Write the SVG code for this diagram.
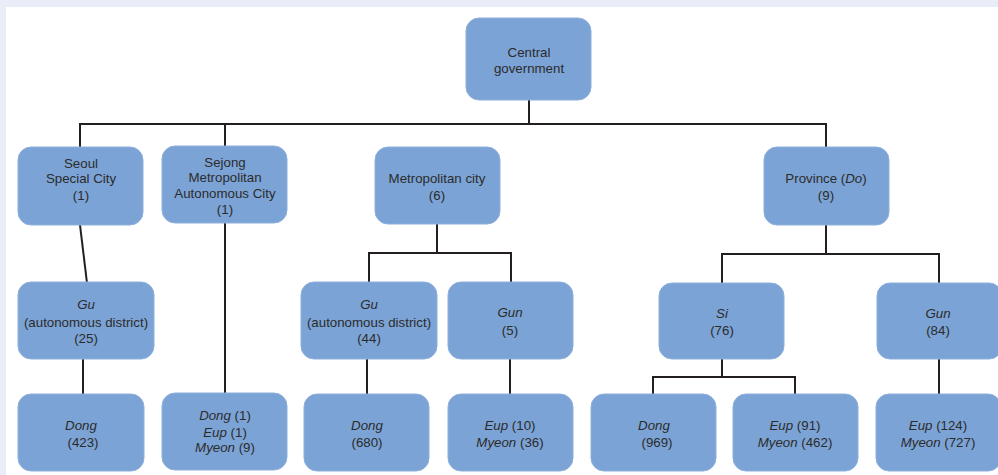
<svg xmlns="http://www.w3.org/2000/svg" width="998" height="475" viewBox="0 0 998 475">
<style>
.bx{fill:#7ca3d5;stroke:#8db0dc;stroke-width:1}
.t{font-family:"Liberation Sans",Arial,sans-serif;font-size:13.3px;fill:#2b2b2b;text-anchor:middle}
.i{font-style:italic}
.c{fill:none;stroke:#231f20;stroke-width:2}
</style>
<rect x="0" y="0" width="998" height="475" fill="#e8edf7"/>
<rect x="6" y="7" width="992" height="468" fill="#ffffff"/>
<g id="connectors">
<path class="c" d="M80,148 V124 H826 V148"/>
<path class="c" d="M529,100 V124"/>
<path class="c" d="M225,124 V147"/>
<path class="c" d="M80,225 L87,283"/>
<path class="c" d="M225,223 V394"/>
<path class="c" d="M83,359 V395"/>
<path class="c" d="M437,224 V253 M369,283 V253 H511 V283"/>
<path class="c" d="M367,359 V395"/>
<path class="c" d="M510,359 V395"/>
<path class="c" d="M826,225 V254 M722,284 V254 H939 V284"/>
<path class="c" d="M722,359 V377 M653,395 V377 H795 V395"/>
<path class="c" d="M939,359 V395"/>
</g>
<g id="central"><rect class="bx" x="466" y="18" width="125" height="82" rx="13"/>
<text class="t" x="529" y="57">Central</text><text class="t" x="529" y="73">government</text></g>
<g id="seoul"><rect class="bx" x="18" y="147" width="125" height="78" rx="13"/>
<text class="t" x="81" y="168">Seoul</text><text class="t" x="81" y="183">Special City</text><text class="t" x="81" y="200">(1)</text></g>
<g id="sejong"><rect class="bx" x="162" y="146" width="125" height="77" rx="13"/>
<text class="t" x="225" y="167">Sejong</text><text class="t" x="225" y="182">Metropolitan</text><text class="t" x="225" y="198">Autonomous City</text><text class="t" x="225" y="214">(1)</text></g>
<g id="metro"><rect class="bx" x="375" y="147" width="125" height="77" rx="13"/>
<text class="t" x="437" y="183">Metropolitan city</text><text class="t" x="437" y="200">(6)</text></g>
<g id="province"><rect class="bx" x="764" y="147" width="125" height="78" rx="13"/>
<text class="t" x="826" y="183">Province (<tspan class="i">Do</tspan>)</text><text class="t" x="826" y="200">(9)</text></g>
<g id="seoul-gu"><rect class="bx" x="18" y="282" width="136" height="77" rx="13"/>
<text class="t i" x="86" y="309">Gu</text><text class="t" x="86" y="327">(autonomous district)</text><text class="t" x="86" y="343">(25)</text></g>
<g id="seoul-dong"><rect class="bx" x="18" y="394" width="126" height="77" rx="13"/>
<text class="t i" x="81" y="430">Dong</text><text class="t" x="83" y="447">(423)</text></g>
<g id="sejong-sub"><rect class="bx" x="162" y="393" width="125" height="77" rx="13"/>
<text class="t" x="225" y="420"><tspan class="i">Dong</tspan> (1)</text><text class="t" x="225" y="437"><tspan class="i">Eup</tspan> (1)</text><text class="t" x="225" y="452"><tspan class="i">Myeon</tspan> (9)</text></g>
<g id="metro-gu"><rect class="bx" x="301" y="282" width="136" height="77" rx="13"/>
<text class="t i" x="369" y="309">Gu</text><text class="t" x="369" y="327">(autonomous district)</text><text class="t" x="369" y="343">(44)</text></g>
<g id="metro-gun"><rect class="bx" x="448" y="282" width="125" height="77" rx="13"/>
<text class="t i" x="510" y="317">Gun</text><text class="t" x="510" y="335">(5)</text></g>
<g id="metro-dong"><rect class="bx" x="304" y="394" width="125" height="77" rx="13"/>
<text class="t i" x="367" y="430">Dong</text><text class="t" x="367" y="447">(680)</text></g>
<g id="metro-eup"><rect class="bx" x="448" y="394" width="125" height="77" rx="13"/>
<text class="t" x="510" y="430"><tspan class="i">Eup</tspan> (10)</text><text class="t" x="510" y="447"><tspan class="i">Myeon</tspan> (36)</text></g>
<g id="si"><rect class="bx" x="659" y="283" width="125" height="76" rx="13"/>
<text class="t i" x="722" y="318">Si</text><text class="t" x="722" y="335">(76)</text></g>
<g id="prov-gun"><rect class="bx" x="877" y="283" width="125" height="76" rx="13"/>
<text class="t i" x="938" y="318">Gun</text><text class="t" x="938" y="335">(84)</text></g>
<g id="si-dong"><rect class="bx" x="591" y="394" width="125" height="77" rx="13"/>
<text class="t i" x="654" y="430">Dong</text><text class="t" x="657" y="447">(969)</text></g>
<g id="si-eup"><rect class="bx" x="733" y="394" width="125" height="77" rx="13"/>
<text class="t" x="795" y="430"><tspan class="i">Eup</tspan> (91)</text><text class="t" x="795" y="447"><tspan class="i">Myeon</tspan> (462)</text></g>
<g id="gun-eup"><rect class="bx" x="876" y="394" width="125" height="77" rx="13"/>
<text class="t" x="938" y="430"><tspan class="i">Eup</tspan> (124)</text><text class="t" x="938" y="447"><tspan class="i">Myeon</tspan> (727)</text></g>
</svg>
